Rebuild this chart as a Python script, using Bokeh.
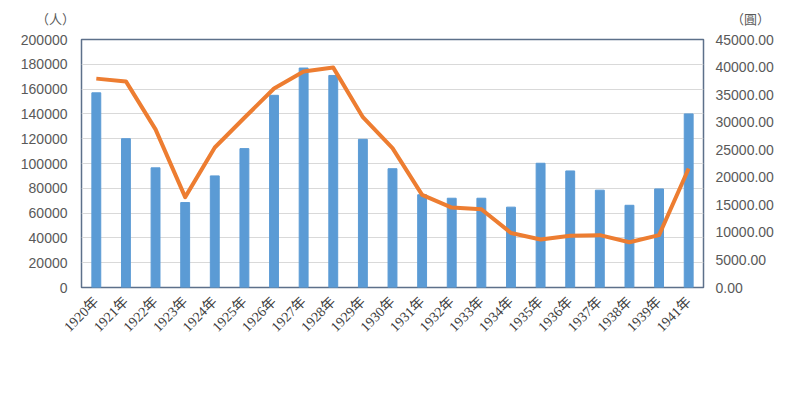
from bokeh.plotting import figure
from bokeh.models import (Range1d, LinearAxis, SingleIntervalTicker, PrintfTickFormatter,
                          FactorRange, Legend, LegendItem, Label)
from bokeh.embed import file_html
from bokeh.resources import INLINE
import math

years = ["1920年", "1921年", "1922年", "1923年", "1924年", "1925年", "1926年", "1927年",
         "1928年", "1929年", "1930年", "1931年", "1932年", "1933年", "1934年", "1935年",
         "1936年", "1937年", "1938年", "1939年", "1941年"]
riders = [157000, 120000, 96500, 68500, 90000, 112000, 155000, 177000, 171000, 119500,
          95800, 74800, 72000, 72000, 64800, 100200, 94000, 78500, 66300, 79500, 140000]
revenue = [37900, 37400, 28700, 16400, 25400, 30800, 36100, 39200, 39900, 30900,
           25300, 16800, 14500, 14200, 9900, 8700, 9400, 9500, 8200, 9500, 21600]

series_names = ["旅客運輸人數", "旅客運輸收入"]
left_unit = "（人）"
right_unit = "（圓）"

CJK = "Noto Sans CJK TC"
NUM = "Liberation Sans"
GRAY = "#595959"
BLUE = "#5b9bd5"
ORANGE = "#ed7d31"

p = figure(frame_width=622, frame_height=248, x_range=FactorRange(*years),
           y_range=Range1d(0, 200000), output_backend="svg", toolbar_location=None,
           min_border_left=81, min_border_right=97, min_border_top=39, min_border_bottom=0)
p.extra_y_ranges = {"rev": Range1d(0, 45000)}

bars = p.vbar(x=years, top=riders, width=0.3, color=BLUE)
line = p.line(x=years, y=revenue, line_width=4, color=ORANGE, y_range_name="rev",
              line_join="round")

p.outline_line_color = "#5d708a"
p.outline_line_width = 1.5
p.xgrid.grid_line_color = None
p.ygrid.grid_line_color = "#d9d9d9"

ya = p.yaxis[0]
ya.ticker = SingleIntervalTicker(interval=20000)
ya.formatter = PrintfTickFormatter(format="%d")

ra = LinearAxis(y_range_name="rev", ticker=SingleIntervalTicker(interval=5000),
                formatter=PrintfTickFormatter(format="%.2f"))
p.add_layout(ra, "right")

xa = p.xaxis[0]
for ax, so in [(ya, 14), (ra, 12), (xa, 12)]:
    ax.axis_line_color = None
    ax.major_tick_line_color = None
    ax.minor_tick_line_color = None
    ax.major_tick_out = 0
    ax.major_tick_in = 0
    ax.minor_tick_out = 0
    ax.major_label_text_color = GRAY
    ax.major_label_text_font = NUM
    ax.major_label_text_font_size = "14px"
    ax.major_label_standoff = so

xa.major_label_orientation = math.pi / 4
xa.major_label_text_color = "#404040"
xa.major_label_text_font = "Liberation Serif, Noto Sans CJK TC"

legend = Legend(items=[LegendItem(label=series_names[0], renderers=[bars]),
                       LegendItem(label=series_names[1], renderers=[line])],
                location="top_center", orientation="horizontal",
                border_line_color=None, background_fill_alpha=0,
                padding=0, margin=15, spacing=25, label_standoff=6,
                glyph_width=34, glyph_height=10,
                label_text_font=CJK, label_text_font_size="17px",
                label_text_color=GRAY)
p.add_layout(legend, "below")

for txt, xx, yy in [(left_unit, -26, 21), (right_unit, 669, 2)]:
    p.add_layout(Label(x=xx, y=yy, x_units="screen", y_units="screen", text=txt,
                       text_font=CJK, text_font_size="13px", text_color=GRAY,
                       text_align="center", text_baseline="middle"), "above")

open("out.html", "w").write(file_html(p, INLINE))
